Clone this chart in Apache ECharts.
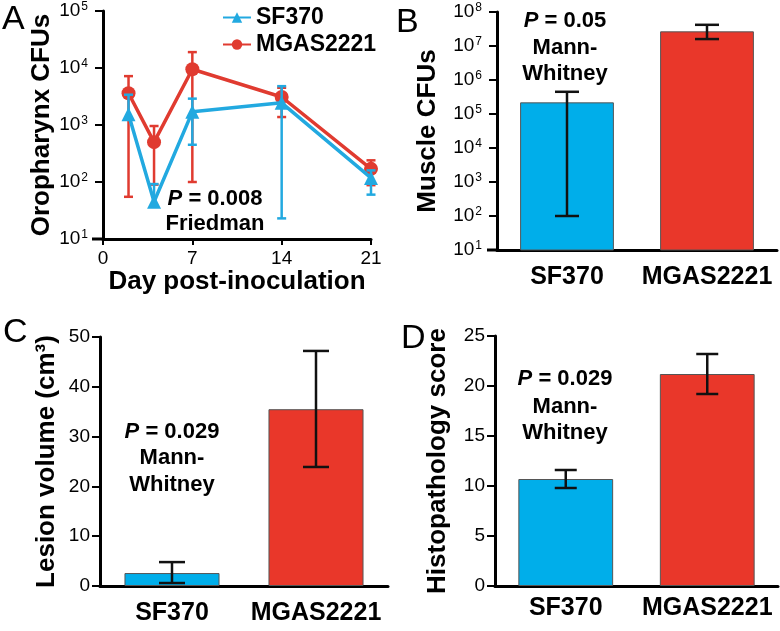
<!DOCTYPE html>
<html>
<head>
<meta charset="utf-8">
<script src="https://cdn.jsdelivr.net/npm/echarts@6/dist/echarts.min.js"></script>
<style>html,body{margin:0;padding:0;background:#fff;}#c{width:780px;height:631px;}</style>
</head>
<body>
<div id="c"></div>
<script>
// ---- Panel A: oropharynx CFUs over time ----
const days = [2, 4, 7, 14, 21];
const sf370Cfu  = [1550, 45, 1700, 2450, 118];
const sf370Low  = [1550, 45, 450, 23, 60];
const sf370High = [3400, 92, 2900, 4800, 160];
const mgasCfu   = [3600, 500, 9500, 3100, 170];
const mgasLow   = [55, 90, 100, 1380, 88];
const mgasHigh  = [7200, 960, 19000, 4500, 240];

// ---- Panels B-D: strain comparisons ----
const strains = ['SF370', 'MGAS2221'];
const muscleCfu  = [220000, 27000000];
const muscleLow  = [100, 16000000];
const muscleHigh = [450000, 42000000];
const lesionVol  = [2.6, 35.5];
const lesionLow  = [0.6, 23.9];
const lesionHigh = [4.8, 47.2];
const histoScore = [10.7, 21.2];
const histoLow   = [9.8, 19.2];
const histoHigh  = [11.6, 23.2];

const FF = '"Liberation Sans", Arial, Helvetica, sans-serif';
const BLUE = '#00aeea';
const RED = '#e9372a';
const LBLUE = '#22a9e0';
const LRED = '#e03b30';

function errRender(capW, color, width) {
  return function (params, api) {
    const x = api.value(0), v = api.value(1), lo = api.value(2), hi = api.value(3);
    const ph = api.coord([x, hi]);
    const pl = api.coord([x, lo]);
    const st = { stroke: color, lineWidth: width };
    const ch = [
      { type: 'line', shape: { x1: ph[0], y1: ph[1], x2: pl[0], y2: pl[1] }, style: st },
      { type: 'line', shape: { x1: ph[0] - capW / 2, y1: ph[1], x2: ph[0] + capW / 2, y2: ph[1] }, style: st }
    ];
    if (lo < v) ch.push({ type: 'line', shape: { x1: pl[0] - capW / 2, y1: pl[1], x2: pl[0] + capW / 2, y2: pl[1] }, style: st });
    return { type: 'group', children: ch };
  };
}
function zipErr(xs, vals, lows, highs) {
  return xs.map((x, i) => [x, vals[i], lows[i], highs[i]]);
}

const axisLineStyle = { color: '#000', width: 3 };
const tickStyle = { color: '#000', width: 2 };
const logLabel = {
  fontFamily: FF, fontSize: 19, color: '#000', margin: 15,
  formatter: v => '10{s|' + Math.round(Math.log10(v)) + '}',
  rich: { s: { fontSize: 12, fontFamily: FF, color: '#000', verticalAlign: 'top', padding: [0, 0, 8, 1] } }
};
const linLabel = { fontFamily: FF, fontSize: 19, color: '#000', margin: 10 };
const nameStyle = { fontFamily: FF, fontSize: 26, fontWeight: 'bold', color: '#000' };

const grids = [
  { left: 103, top: 11, width: 268, height: 228 },
  { left: 497, top: 12, width: 280, height: 238 },
  { left: 100, top: 337, width: 288, height: 249 },
  { left: 495, top: 336, width: 283, height: 250 }
];

function catX(gi, margin) {
  return {
    type: 'category', gridIndex: gi, data: strains, boundaryGap: true,
    axisLine: { lineStyle: axisLineStyle },
    axisTick: { alignWithLabel: true, interval: 0, length: 10, lineStyle: tickStyle },
    axisLabel: { fontFamily: FF, fontSize: 25, fontWeight: 'bold', color: '#000', margin: margin, interval: 0 },
    splitLine: { show: false }
  };
}

const annotations = [
  [215, [198, 223], ['{i|P} = 0.008', 'Friedman']],
  [565, [20, 47, 73], ['{i|P} = 0.05', 'Mann-', 'Whitney']],
  [172, [431, 457, 484], ['{i|P} = 0.029', 'Mann-', 'Whitney']],
  [565, [378, 406, 432], ['{i|P} = 0.029', 'Mann-', 'Whitney']]
];
const annoGraphics = [];
annotations.forEach(([x, ys, lines]) => {
  lines.forEach((t, k) => {
    annoGraphics.push({
      type: 'text', x: x, y: ys[k] + 1,
      style: {
        text: t, fontFamily: FF, fontSize: 22, fontWeight: 'bold', fill: '#000',
        align: 'center', verticalAlign: 'middle',
        rich: { i: { fontStyle: 'italic', fontWeight: 'bold', fontSize: 22, fontFamily: FF } }
      }
    });
  });
});

const option = {
  animation: false,
  backgroundColor: '#fff',
  grid: grids,
  legend: {
    data: ['SF370', 'MGAS2221'], orient: 'vertical', left: 217, top: 1,
    itemWidth: 28, itemHeight: 13, itemGap: 4,
    textStyle: { fontFamily: FF, fontSize: 23, fontWeight: 'bold', color: '#000' }
  },
  xAxis: [
    {
      type: 'value', gridIndex: 0, min: 0, max: 21, interval: 7,
      axisLine: { lineStyle: axisLineStyle },
      axisTick: { show: true, length: 6, lineStyle: tickStyle },
      axisLabel: linLabel, splitLine: { show: false },
      name: 'Day post-inoculation', nameLocation: 'middle', nameGap: 21,
      nameTextStyle: Object.assign({}, nameStyle, { verticalAlign: 'top' })
    },
    catX(1, 15), catX(2, 15), catX(3, 10)
  ],
  yAxis: [
    {
      type: 'log', logBase: 10, gridIndex: 0, min: 10, max: 100000, interval: 1,
      axisLine: { show: true, lineStyle: axisLineStyle },
      axisTick: { show: true, length: 8, lineStyle: tickStyle },
      minorTick: { show: false },
      axisLabel: logLabel, splitLine: { show: false },
      name: 'Oropharynx CFUs', nameLocation: 'middle', nameGap: 47, nameTextStyle: nameStyle
    },
    {
      type: 'log', logBase: 10, gridIndex: 1, min: 10, max: 100000000, interval: 1,
      axisLine: { show: true, lineStyle: axisLineStyle },
      axisTick: { show: true, length: 8, lineStyle: tickStyle },
      minorTick: { show: false },
      axisLabel: logLabel, splitLine: { show: false },
      name: 'Muscle CFUs', nameLocation: 'middle', nameGap: 56, nameTextStyle: nameStyle
    },
    {
      type: 'value', gridIndex: 2, min: 0, max: 50, interval: 10,
      axisLine: { show: true, lineStyle: axisLineStyle },
      axisTick: { show: true, length: 8, lineStyle: tickStyle },
      axisLabel: linLabel, splitLine: { show: false },
      name: 'Lesion volume (cm³)', nameLocation: 'middle', nameGap: 40, nameTextStyle: nameStyle
    },
    {
      type: 'value', gridIndex: 3, min: 0, max: 25, interval: 5,
      axisLine: { show: true, lineStyle: axisLineStyle },
      axisTick: { show: true, length: 8, lineStyle: tickStyle },
      axisLabel: linLabel, splitLine: { show: false },
      name: 'Histopathology score', nameLocation: 'middle', nameGap: 44, nameTextStyle: nameStyle
    }
  ],
  series: [
    // Panel A
    {
      type: 'custom', name: 'mgErr', xAxisIndex: 0, yAxisIndex: 0, z: 2,
      renderItem: errRender(9, LRED, 2.5), encode: { x: 0, y: [1, 2, 3] },
      data: zipErr(days, mgasCfu, mgasLow, mgasHigh)
    },
    {
      type: 'line', name: 'MGAS2221', xAxisIndex: 0, yAxisIndex: 0, z: 3,
      data: days.map((d, i) => [d, mgasCfu[i]]),
      symbol: 'circle', symbolSize: 14, color: LRED,
      lineStyle: { color: LRED, width: 3.5 }, itemStyle: { color: LRED }
    },
    {
      type: 'custom', name: 'sfErr', xAxisIndex: 0, yAxisIndex: 0, z: 4,
      renderItem: errRender(9, LBLUE, 2.5), encode: { x: 0, y: [1, 2, 3] },
      data: zipErr(days, sf370Cfu, sf370Low, sf370High)
    },
    {
      type: 'line', name: 'SF370', xAxisIndex: 0, yAxisIndex: 0, z: 5,
      data: days.map((d, i) => [d, sf370Cfu[i]]),
      symbol: 'triangle', symbolSize: 14, color: LBLUE,
      lineStyle: { color: LBLUE, width: 3.5 }, itemStyle: { color: LBLUE }
    },
    // Panel B
    {
      type: 'bar', name: 'muscle', xAxisIndex: 1, yAxisIndex: 1, barWidth: '67%',
      data: muscleCfu.map((v, i) => ({ value: v, itemStyle: { color: i ? RED : BLUE } })),
      itemStyle: { borderColor: '#555', borderWidth: 1 }
    },
    {
      type: 'custom', name: 'muscleErr', xAxisIndex: 1, yAxisIndex: 1, z: 5,
      renderItem: errRender(24, '#111', 2.5), encode: { x: 0, y: [1, 2, 3] },
      data: zipErr([0, 1], muscleCfu, muscleLow, muscleHigh)
    },
    // Panel C
    {
      type: 'bar', name: 'lesion', xAxisIndex: 2, yAxisIndex: 2, barWidth: '66%',
      data: lesionVol.map((v, i) => ({ value: v, itemStyle: { color: i ? RED : BLUE } })),
      itemStyle: { borderColor: '#555', borderWidth: 1 }
    },
    {
      type: 'custom', name: 'lesionErr', xAxisIndex: 2, yAxisIndex: 2, z: 5,
      renderItem: errRender(26, '#111', 2.5), encode: { x: 0, y: [1, 2, 3] },
      data: zipErr([0, 1], lesionVol, lesionLow, lesionHigh)
    },
    // Panel D
    {
      type: 'bar', name: 'histo', xAxisIndex: 3, yAxisIndex: 3, barWidth: '67%',
      data: histoScore.map((v, i) => ({ value: v, itemStyle: { color: i ? RED : BLUE } })),
      itemStyle: { borderColor: '#555', borderWidth: 1 }
    },
    {
      type: 'custom', name: 'histoErr', xAxisIndex: 3, yAxisIndex: 3, z: 5,
      renderItem: errRender(22, '#111', 2.5), encode: { x: 0, y: [1, 2, 3] },
      data: zipErr([0, 1], histoScore, histoLow, histoHigh)
    }
  ],
  graphic: [
    ...[['A', 2, 20], ['B', 396, 23], ['C', 3, 333], ['D', 401, 339]].map(([t, x, y]) => ({
      type: 'text', x: x, y: y,
      style: { text: t, fontFamily: FF, fontSize: 34, fill: '#000', verticalAlign: 'middle', align: 'left' }
    })),
    // small left extensions of the x axis lines in panels A and B
    { type: 'line', shape: { x1: 92, y1: 239, x2: 104, y2: 239 }, style: { stroke: '#000', lineWidth: 3 } },
    { type: 'line', shape: { x1: 487, y1: 250, x2: 498, y2: 250 }, style: { stroke: '#000', lineWidth: 3 } },
    ...annoGraphics
  ]
};

const chart = echarts.init(document.getElementById('c'), null, { renderer: 'canvas' });
chart.setOption(option);
</script>
</body>
</html>
